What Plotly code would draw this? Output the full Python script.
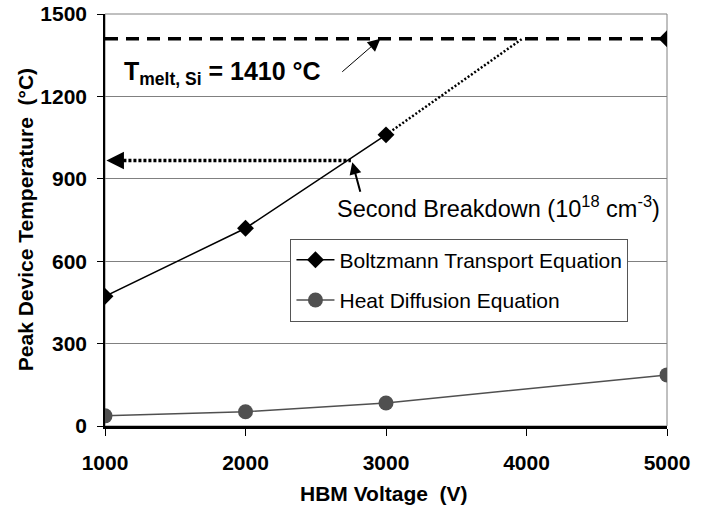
import plotly.graph_objects as go

# Data
voltage = [1000, 2000, 3000, 4000, 5000]
bte_temp = [472, 720, 1060, None, 1410]
hde_temp = [37, 52, 84, None, 186]

melt_temp = 1410
extrap_x = [3000, 3970]
extrap_y = [1060, 1410]
breakdown_x = 2750
breakdown_y = 967

x_ticks = [1000, 2000, 3000, 4000, 5000]
y_ticks = [0, 300, 600, 900, 1200, 1500]

FONT = "Liberation Sans, Arial, sans-serif"

W, H = 707, 509
L, R, T, B = 105, 40, 14, 83

fig = go.Figure()

fig.add_trace(go.Scatter(x=[1000, 5000], y=[melt_temp, melt_temp], mode="lines",
                         line=dict(color="black", width=3.5, dash="13px,8px"),
                         showlegend=False, hoverinfo="skip"))
fig.add_trace(go.Scatter(x=extrap_x, y=extrap_y, mode="lines",
                         line=dict(color="black", width=2.5, dash="2px,2px"),
                         showlegend=False, hoverinfo="skip"))
fig.add_trace(go.Scatter(x=[1060, breakdown_x], y=[breakdown_y, breakdown_y], mode="lines",
                         line=dict(color="black", width=3.5, dash="3px,2px"),
                         showlegend=False, hoverinfo="skip"))

fig.add_trace(go.Scatter(x=voltage, y=bte_temp, mode="lines+markers",
                         name="Boltzmann Transport Equation", legendgroup="a",
                         connectgaps=False,
                         line=dict(color="black", width=1.5),
                         marker=dict(symbol="diamond", size=13, color="black")))
fig.add_trace(go.Scatter(x=voltage, y=hde_temp, mode="lines+markers",
                         name="Heat Diffusion Equation", legendgroup="b",
                         connectgaps=True,
                         line=dict(color="#505050", width=1.5),
                         marker=dict(symbol="circle", size=15, color="#505050")))

fig.add_annotation(x=1010, y=breakdown_y, ax=1150, ay=breakdown_y, xref="x", yref="y",
                   axref="x", ayref="y", showarrow=True, arrowhead=2, arrowsize=1.4,
                   arrowwidth=2.5, arrowcolor="black", text="")
fig.add_annotation(x=2960, y=1410, ax=2678, ay=1285, xref="x", yref="y",
                   axref="x", ayref="y", showarrow=True, arrowhead=2, arrowsize=2.5,
                   arrowwidth=1, arrowcolor="black", text="")
fig.add_annotation(x=2760, y=960, ax=2820, ay=847, xref="x", yref="y",
                   axref="x", ayref="y", showarrow=True, arrowhead=2, arrowsize=1.2,
                   arrowwidth=2, arrowcolor="black", text="")

fig.add_annotation(x=1120, y=1285, xref="x", yref="y", xanchor="left", yanchor="middle",
                   showarrow=False,
                   text="<b>T<sub>melt, Si</sub> = 1410 °C</b>",
                   font=dict(family=FONT, size=25, color="black"))
fig.add_annotation(x=4965, y=796, xref="x", yref="y", xanchor="right", yanchor="middle",
                   showarrow=False,
                   text="Second Breakdown (10<sup>18</sup> cm<sup>-3</sup>)",
                   font=dict(family=FONT, size=23.5, color="black"))

fig.add_annotation(x=0.497, y=-0.163, xref="paper", yref="paper", xanchor="center",
                   yanchor="middle", showarrow=False,
                   text="<b>HBM Voltage  (V)</b>",
                   font=dict(family=FONT, size=21, color="black"))
fig.add_annotation(x=-0.142, y=0.5, xref="paper", yref="paper", xanchor="center",
                   yanchor="middle", showarrow=False, textangle=-90,
                   text="<b>Peak Device Temperature  (°C)</b>",
                   font=dict(family=FONT, size=21, color="black"))

fig.add_shape(type="rect", xref="paper", yref="paper", x0=0, y0=0, x1=1, y1=1,
              line=dict(color="#808080", width=1), layer="below")

fig.update_layout(
    width=W, height=H,
    margin=dict(l=L, r=R, t=T, b=B),
    plot_bgcolor="white", paper_bgcolor="white",
    font=dict(family=FONT, color="black"),
    legend=dict(x=0.33, y=0.455, xanchor="left", yanchor="top",
                bordercolor="#555555", borderwidth=1, bgcolor="white",
                font=dict(family=FONT, size=21, color="black"),
                tracegroupgap=10, itemwidth=38),
    xaxis=dict(range=[1000, 5000], tickvals=x_ticks, ticks="outside", ticklen=7,
               tickcolor="black", showline=True, linecolor="black", linewidth=2.5,
               showgrid=False, zeroline=False, automargin=False,
               ticklabelstandoff=9,
               tickfont=dict(family=FONT, size=21, color="black", weight="bold")),
    yaxis=dict(range=[0, 1500], tickvals=y_ticks, ticks="outside", ticklen=6,
               tickcolor="black", showline=True, linecolor="black", linewidth=1.5,
               showgrid=True, gridcolor="#808080", gridwidth=1, zeroline=False,
               automargin=False, ticklabelstandoff=6,
               tickfont=dict(family=FONT, size=21, color="black", weight="bold")),
)

fig.write_html("out.html", config={"displayModeBar": False},
               post_script="document.body.style.margin='0';")
